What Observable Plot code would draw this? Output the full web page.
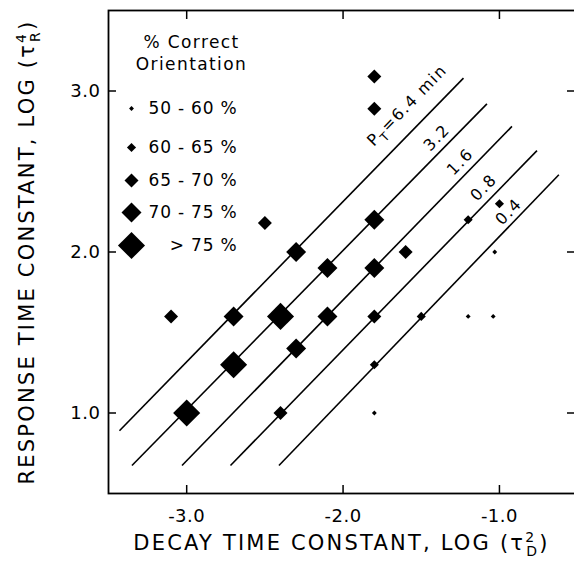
<!DOCTYPE html>
<html><head><meta charset="utf-8">
<script src="https://cdn.jsdelivr.net/npm/d3@7"></script>
<script src="https://cdn.jsdelivr.net/npm/@observablehq/plot@0.6"></script>
<style>
html,body{margin:0;padding:0;background:#fff;overflow:hidden;}
</style>
</head><body><div id="chart"></div>
<script>
// ---------- data ----------
const decayLog    = [-3.0, -2.7, -2.4, -3.1, -2.7, -2.3, -2.4, -2.1, -2.1, -2.3, -2.5, -1.8, -1.8, -1.8, -1.8, -1.6, -1.8, -1.5, -1.8, -1.8, -1.2, -1.04, -1.03, -1.0, -1.2];
const responseLog = [ 1.0,  1.3,  1.6,  1.6,  1.6,  1.4,  1.0,  1.6,  1.9,  2.0, 2.18, 3.09, 2.89,  2.2,  1.9,  2.0,  1.6,  1.6,  1.3,  1.0,  1.6,  1.6,  2.0,  2.3, 2.2];
const pctClass    = [  75,   75,   75,   65,   70,   70,   65,   70,   70,   70,   65,   65,   65,   70,   70,   65,   65,   60,   60,   50,   50,   50,   50,   60,   60];

const legendPct   = [50, 60, 65, 70, 75];
const legendText  = ["50 - 60 %", "60 - 65 %", "65 - 70 %", "70 - 75 %", "> 75 %"];
const legendTitle = ["% Correct", "Orientation"];

const lineTimes   = ["6.4", "3.2", "1.6", "0.8", "0.4"];
const lineX1      = [-3.43, -3.35, -3.03, -2.72, -2.41];
const lineY1      = [ 0.89, 0.674, 0.674, 0.674, 0.674];
const lineX2      = [-1.23, -1.08, -0.92, -0.76, -0.62];
const lineY2      = [ 3.08,  2.92,  2.78,  2.63,  2.48];
const lineLabelText = ["PT=6.4 min", "3.2", "1.6", "0.8", "0.4"];
const lineLabelX  = [-1.59, -1.40, -1.25, -1.10, -0.94];
const lineLabelY  = [ 2.91,  2.71,  2.56,  2.40,  2.25];

const xTicks = [-3, -2, -1];
const yTicks = [1, 2, 3];
const xTitle = "DECAY TIME CONSTANT, LOG (τ2D)";
const yTitle = "RESPONSE TIME CONSTANT, LOG (τ4R)";

// ---------- tables ----------
const points = decayLog.map((x, i) => ({x, y: responseLog[i], pct: pctClass[i]}));
const lines = lineTimes.map((t, i) => ({t, x1: lineX1[i], y1: lineY1[i], x2: lineX2[i], y2: lineY2[i]}));
const lineLabels = lineLabelText.map((text, i) => ({text, x: lineLabelX[i], y: lineLabelY[i]}));

// ---------- layout ----------
const legendRowDy = [98, 137, 170, 202, 235];
const legendTitleDy = [32, 54];

const plot = Plot.plot({
  width: 574, height: 569,
  marginLeft: 108, marginRight: 0, marginTop: 10, marginBottom: 76,
  style: {fontFamily: "DejaVu Sans", background: "white", overflow: "hidden"},
  x: {domain: [-3.5, -0.52], label: null},
  y: {domain: [0.5, 3.5], label: null},
  r: {type: "threshold", domain: [60, 65, 70, 75], range: [2.2, 4.1, 6.3, 9.0, 12.2]},
  marks: [
    Plot.frame({strokeWidth: 1.8, insetRight: -4}),
    Plot.axisX(xTicks, {anchor: "bottom", tickSize: -8, fill: "none", strokeWidth: 1.5, label: null}),
    Plot.axisX(xTicks, {anchor: "top", tickSize: -8, fill: "none", strokeWidth: 1.5, label: null}),
    Plot.axisY(yTicks, {anchor: "left", tickSize: -8, fill: "none", strokeWidth: 1.5, label: null}),
    Plot.axisY(yTicks, {anchor: "right", tickSize: -8, fill: "none", strokeWidth: 1.5, label: null}),
    Plot.axisX(xTicks, {anchor: "bottom", tickSize: 0, tickPadding: 16, tickFormat: d => d.toFixed(1), fontSize: 18, label: null}),
    Plot.axisY(yTicks, {anchor: "left", tickSize: 0, tickPadding: 8, tickFormat: d => d.toFixed(1), fontSize: 18, label: null}),
    Plot.link(lines, {x1: "x1", y1: "y1", x2: "x2", y2: "y2", stroke: "black", strokeWidth: 1.6}),
    Plot.dot(points, {x: "x", y: "y", r: "pct", symbol: "diamond2", fill: "black"}),
    Plot.text(lineLabels, {x: "x", y: "y", text: "text", rotate: -45.8, fontSize: 16, fill: "black"}),
    ...legendPct.map((p, i) => Plot.dot([p], {frameAnchor: "top-left", dx: 23, dy: legendRowDy[i], r: d => d, symbol: "diamond2", fill: "black"})),
    ...legendText.map((t, i) => Plot.text([t], {frameAnchor: "top-left", dx: 129, dy: legendRowDy[i], textAnchor: "end", lineAnchor: "middle", fontSize: 17, fill: "black"})),
    ...legendTitle.map((t, i) => Plot.text([t], {frameAnchor: "top-left", dx: 83, dy: legendTitleDy[i], textAnchor: "middle", lineAnchor: "middle", fontSize: 17, fill: "black"})),
    Plot.text([xTitle], {frameAnchor: "bottom", dy: 50, textAnchor: "middle", lineAnchor: "middle", fontSize: 21, fill: "black"}),
    Plot.text([yTitle], {frameAnchor: "left", dx: -81, rotate: -90, textAnchor: "middle", lineAnchor: "middle", fontSize: 21, fill: "black"})
  ]
});
document.getElementById("chart").appendChild(plot);

// ---------- typographic touches: sub/superscripts and letter spacing ----------
const NS = "http://www.w3.org/2000/svg";
function rich(plain, parts) {
  plot.querySelectorAll("text").forEach(t => {
    if (t.textContent === plain) {
      t.textContent = "";
      for (const p of parts) {
        const ts = document.createElementNS(NS, "tspan");
        ts.textContent = p.text;
        if (p.dx != null) ts.setAttribute("dx", p.dx);
        if (p.dy != null) ts.setAttribute("dy", p.dy);
        if (p.size != null) ts.setAttribute("font-size", p.size);
        t.appendChild(ts);
      }
    }
  });
}
rich(xTitle, [
  {text: "DECAY TIME CONSTANT, LOG (τ"},
  {text: "2", dy: -8, size: 14},
  {text: "D", dx: -10, dy: 14, size: 14},
  {text: ")", dy: -6, size: 21}
]);
rich(yTitle, [
  {text: "RESPONSE TIME CONSTANT, LOG (τ"},
  {text: "4", dy: -8, size: 14},
  {text: "R", dx: -10, dy: 14, size: 14},
  {text: ")", dy: -6, size: 21}
]);
rich(lineLabelText[0], [
  {text: "P"},
  {text: "T", dy: 5, size: 12},
  {text: "=6.4 min", dy: -5, size: 16}
]);
plot.querySelectorAll("text").forEach(t => {
  const s = t.textContent;
  let ls = 0.5;
  if (s.startsWith("DECAY") || s.startsWith("RESPONSE")) ls = 2.2;
  else if (legendText.includes(s)) ls = 0.8;
  else if (legendTitle.includes(s)) ls = 1.4;
  else if (s.includes("min") || lineLabelText.includes(s)) ls = 1.5;
  t.setAttribute("letter-spacing", ls);
});
</script>
</body></html>
